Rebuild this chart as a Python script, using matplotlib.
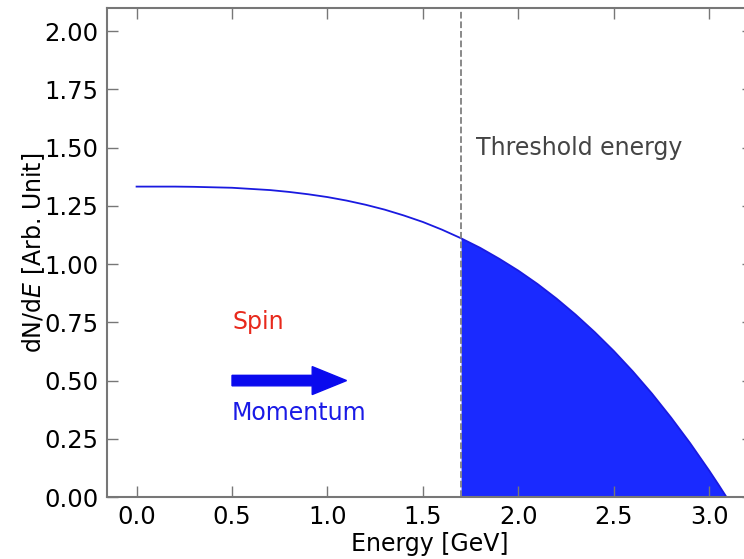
import matplotlib
matplotlib.use("agg")
import matplotlib.pyplot as plt
import numpy as np

# spectrum
energy = [0.0, 0.1, 0.2, 0.3, 0.4, 0.5, 0.6, 0.7, 0.8, 0.9, 1.0, 1.1, 1.2, 1.3,
          1.4, 1.5, 1.6, 1.7, 1.8, 1.9, 2.0, 2.1, 2.2, 2.3, 2.4, 2.5, 2.6, 2.7,
          2.8, 2.9, 3.0, 3.05, 3.09]
dnde = [1.333, 1.333, 1.333, 1.332, 1.330, 1.328, 1.323, 1.318, 1.310, 1.300,
        1.288, 1.273, 1.255, 1.234, 1.209, 1.181, 1.148, 1.111, 1.070, 1.023,
        0.972, 0.915, 0.852, 0.783, 0.708, 0.627, 0.539, 0.444, 0.341, 0.231,
        0.113, 0.051, 0.0]
threshold = 1.7

energy = np.array(energy)
dnde = np.array(dnde)

fig = plt.figure(figsize=(7.44, 5.59), dpi=100)
ax = fig.add_axes([0.1438, 0.1109, 0.868, 0.8748])

ax.plot(energy, dnde, color='#1a1ae0', lw=1.3)
sel = energy >= threshold
ax.fill_between(energy[sel], 0, dnde[sel], color='#1a2aff', lw=0)
ax.axvline(threshold, color='grey', linestyle='--', lw=1.3)

ax.text(1.78, 1.5, "Threshold energy", fontsize=17, color='#444444', va='center')
ax.text(0.5, 0.75, "Spin", fontsize=17, color='#e8291c', va='center')
ax.text(0.5, 0.36, "Momentum", fontsize=17, color='#1a1ae6', va='center')
ax.arrow(0.5, 0.5, 0.42, 0, width=0.045, head_width=0.12, head_length=0.18,
         color='#0a0aee', length_includes_head=False)

ax.set_xlim(-0.155, 3.228)
ax.set_ylim(0, 2.1)
ax.set_xticks([0.0, 0.5, 1.0, 1.5, 2.0, 2.5, 3.0])
ax.set_yticks([0.0, 0.25, 0.5, 0.75, 1.0, 1.25, 1.5, 1.75, 2.0])
ax.xaxis.set_major_formatter(matplotlib.ticker.FormatStrFormatter('%.1f'))
ax.yaxis.set_major_formatter(matplotlib.ticker.FormatStrFormatter('%.2f'))
ax.tick_params(direction='in', length=8, width=1, color='#777777',
               labelsize=17.5, top=True, right=True, pad=6)
for s in ax.spines.values():
    s.set_color('#777777')
    s.set_linewidth(1.5)

ax.set_xlabel("Energy [GeV]", fontsize=17, labelpad=2)
ax.set_ylabel("dN/d$E$ [Arb. Unit]", fontsize=17)
ax.yaxis.set_label_coords(-0.093, 0.5)

plt.savefig("out.png", dpi=100)
